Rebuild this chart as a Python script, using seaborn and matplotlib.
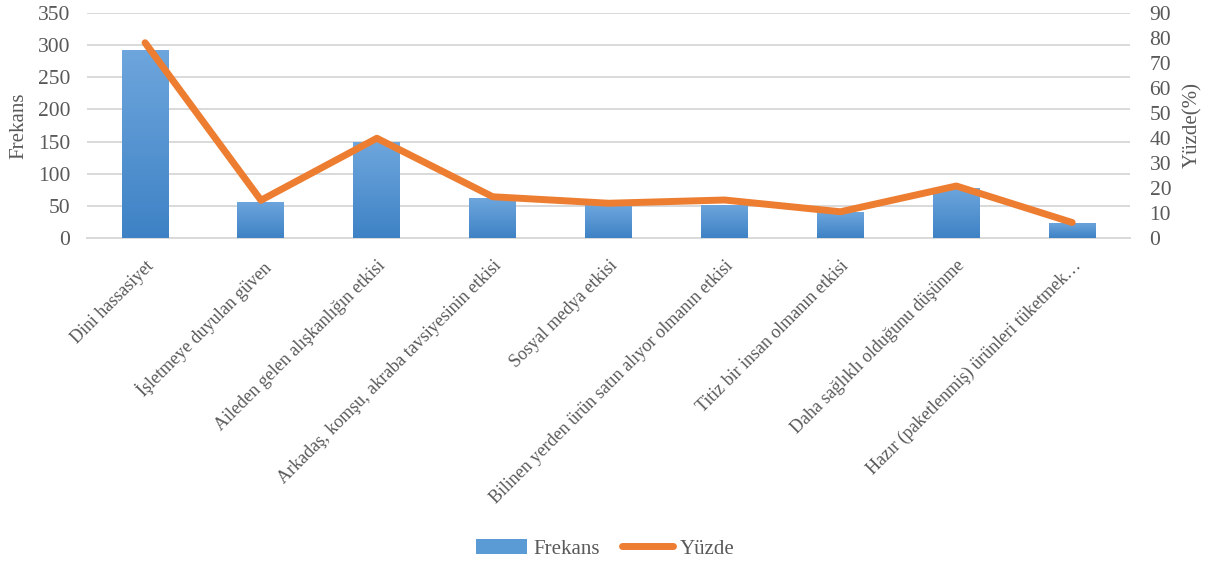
import numpy as np
import pandas as pd
import matplotlib
matplotlib.use('Agg')
import matplotlib.pyplot as plt
import seaborn as sns
from matplotlib.colors import LinearSegmentedColormap
from matplotlib.lines import Line2D
from matplotlib.patches import Patch

categories = [
    "Dini hassasiyet",
    "İşletmeye duyulan güven",
    "Aileden gelen alışkanlığın etkisi",
    "Arkadaş, komşu, akraba tavsiyesinin etkisi",
    "Sosyal medya etkisi",
    "Bilinen yerden ürün satın alıyor olmanın etkisi",
    "Titiz bir insan olmanın etkisi",
    "Daha sağlıklı olduğunu düşünme",
    "Hazır (paketlenmiş) ürünleri tüketmek…",
]
frekans = [293, 56, 149, 62, 51, 52, 40, 78, 24]
yuzde = [78.1, 15.1, 39.9, 16.5, 13.9, 15.2, 10.5, 20.8, 6.2]
freq_ticks = [0, 50, 100, 150, 200, 250, 300, 350]
pct_ticks = [0, 10, 20, 30, 40, 50, 60, 70, 80, 90]

sns.set_theme(style='white')
plt.rcParams['font.family'] = ['Liberation Serif', 'DejaVu Serif']

TXT = '#595959'
GRID = '#D9D9D9'
BLUE = '#5B9BD5'
ORANGE = '#ED7D31'

fig = plt.figure(figsize=(12.1, 5.64), dpi=100)
ax = fig.add_axes([0.072, 0.578, 0.862, 0.399])

df = pd.DataFrame({'Kategori': categories, 'Frekans': frekans, 'Yüzde': yuzde})
sns.barplot(data=df, x='Kategori', y='Frekans', ax=ax, color=BLUE,
            width=0.405, saturation=1, zorder=3)

# gradient fill for bars
cmap = LinearSegmentedColormap.from_list('g', ['#3E82C5', '#6EA6DD'])
grad = np.linspace(0, 1, 256).reshape(-1, 1)
for p in list(ax.patches):
    x0, y0 = p.get_x(), p.get_y()
    w, h = p.get_width(), p.get_height()
    im = ax.imshow(grad, extent=[x0, x0 + w, y0, y0 + h], origin='lower',
                   aspect='auto', cmap=cmap, zorder=3)
    im.set_clip_path(p)
    p.set_facecolor('none')
    p.set_edgecolor('none')

ax.set_xlim(-0.5, len(categories) - 0.5)
ax.set_ylim(0, 350)
ax.set_yticks(freq_ticks)
ax.yaxis.grid(True, color=GRID, lw=1.4, zorder=0)
ax.set_axisbelow(True)
for s in ['top', 'left', 'right']:
    ax.spines[s].set_visible(False)
ax.spines['bottom'].set_color(GRID)
ax.spines['bottom'].set_linewidth(1.4)
ax.tick_params(axis='both', length=0, labelcolor=TXT)
ax.tick_params(axis='y', pad=12, labelsize=15.5)
ax.tick_params(axis='x', pad=14, labelsize=13)
ax.set_xlabel('')
ax.set_ylabel('Frekans', color=TXT, fontsize=15)
ax.yaxis.set_label_coords(-0.0565, 0.5)
ax.set_xticks(range(len(categories)))
ax.set_xticklabels(categories, rotation=45, ha='right', va='top',
                   rotation_mode='anchor')

ax2 = ax.twinx()
sns.lineplot(x=np.arange(len(categories)), y=yuzde, ax=ax2, color=ORANGE,
             lw=5.0, solid_capstyle='round', solid_joinstyle='round', zorder=5)
ax2.set_ylim(0, 90)
ax2.set_yticks(pct_ticks)
for s in ax2.spines.values():
    s.set_visible(False)
ax2.tick_params(axis='y', length=0, labelcolor=TXT, labelsize=15.5, pad=14)
ax2.set_ylabel('Yüzde(%)', color=TXT, fontsize=15)
ax2.yaxis.set_label_coords(1.051, 0.5)
ax2.grid(False)

handles = [Patch(facecolor=BLUE, edgecolor='none'),
           Line2D([], [], color=ORANGE, lw=5.0, solid_capstyle='round')]
fig.legend(handles=handles, labels=['Frekans', 'Yüzde'], loc='center',
           bbox_to_anchor=(0.5, 0.027), ncol=2, frameon=False, fontsize=15,
           labelcolor=TXT, handlelength=2.45, handletextpad=0.3,
           columnspacing=1.1)

fig.savefig('out.png', dpi=100)
